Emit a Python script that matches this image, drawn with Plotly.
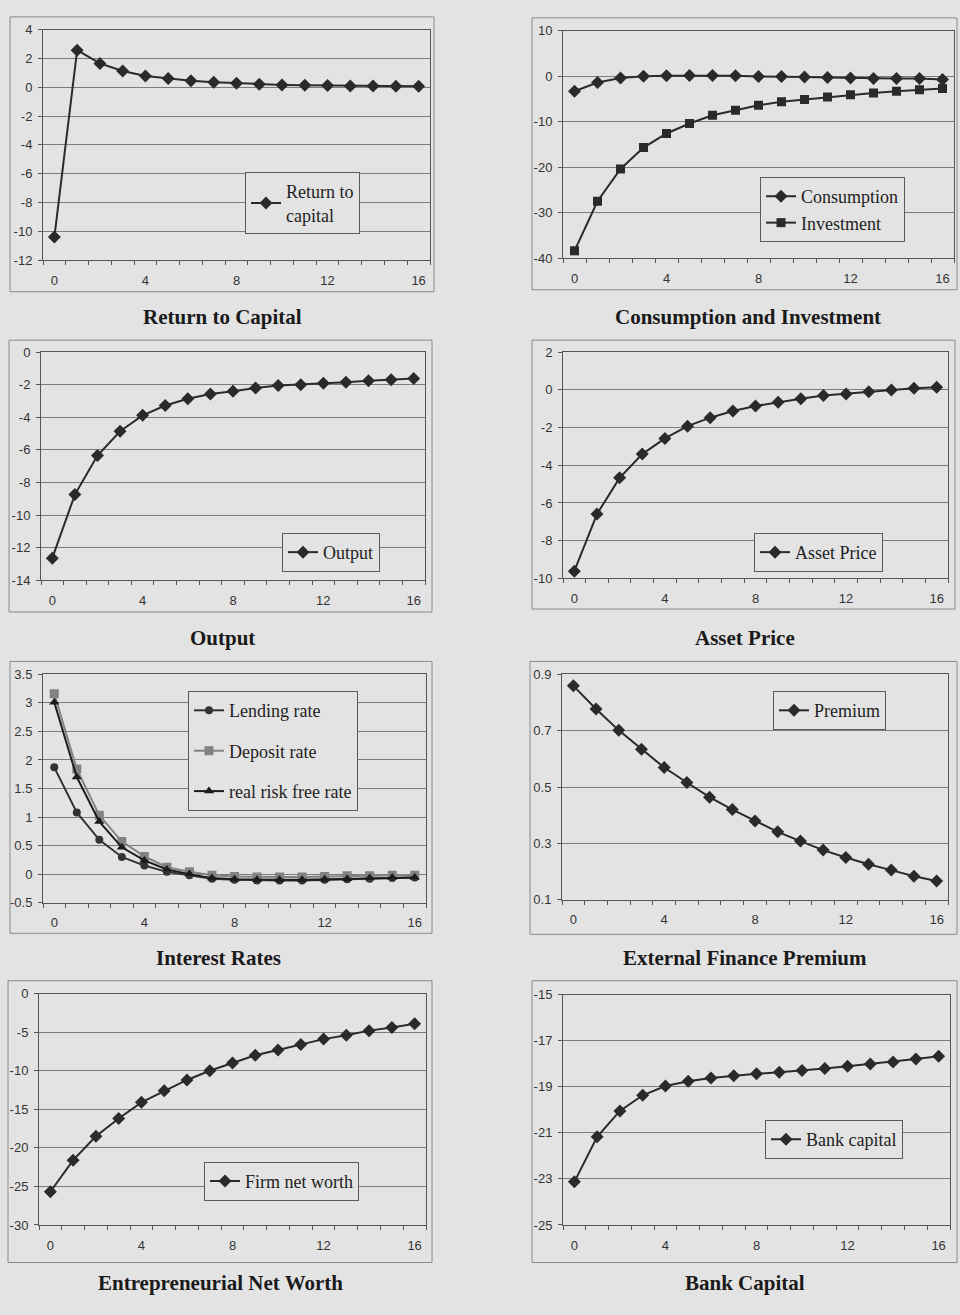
import plotly.graph_objects as go

# ---------------------------------------------------------------
# Impulse responses, quarters 0..16
# ---------------------------------------------------------------
periods = list(range(17))

return_to_capital = [-10.4, 2.58, 1.66, 1.13, 0.79, 0.61, 0.45, 0.36, 0.29,
                     0.22, 0.17, 0.14, 0.12, 0.10, 0.09, 0.08, 0.07]

consumption = [-3.3, -1.4, -0.4, 0.0, 0.1, 0.15, 0.15, 0.1, -0.05,
               -0.05, -0.2, -0.3, -0.4, -0.5, -0.5, -0.5, -0.7]
investment = [-38.4, -27.5, -20.4, -15.7, -12.6, -10.4, -8.6, -7.5, -6.4,
              -5.6, -5.1, -4.6, -4.1, -3.7, -3.3, -3.0, -2.7]

output = [-12.64, -8.74, -6.35, -4.86, -3.88, -3.28, -2.87, -2.57, -2.41,
          -2.20, -2.06, -2.00, -1.92, -1.86, -1.76, -1.70, -1.62]

asset_price = [-9.62, -6.59, -4.67, -3.41, -2.58, -1.93, -1.48, -1.13, -0.86,
               -0.66, -0.48, -0.31, -0.22, -0.10, -0.01, 0.08, 0.13]

lending_rate = [1.87, 1.08, 0.60, 0.30, 0.15, 0.04, -0.02, -0.08, -0.10,
                -0.11, -0.11, -0.11, -0.10, -0.09, -0.08, -0.07, -0.06]
deposit_rate = [3.16, 1.84, 1.03, 0.57, 0.31, 0.12, 0.04, -0.02, -0.04,
                -0.05, -0.05, -0.05, -0.04, -0.03, -0.03, -0.02, -0.02]
risk_free_rate = [3.01, 1.70, 0.92, 0.47, 0.24, 0.08, 0.00, -0.07, -0.09,
                  -0.10, -0.10, -0.10, -0.09, -0.08, -0.07, -0.06, -0.06]

premium = [0.859, 0.777, 0.701, 0.634, 0.569, 0.516, 0.464, 0.420, 0.379,
           0.341, 0.308, 0.276, 0.250, 0.226, 0.205, 0.183, 0.166]

firm_net_worth = [-25.7, -21.6, -18.5, -16.2, -14.1, -12.6, -11.2, -10.0, -9.0,
                  -8.0, -7.3, -6.6, -5.9, -5.4, -4.8, -4.4, -3.9]

bank_capital = [-23.13, -21.17, -20.05, -19.37, -18.97, -18.76, -18.62, -18.52,
                -18.44, -18.37, -18.30, -18.21, -18.11, -18.01, -17.93, -17.80,
                -17.68]

x_tick_labels = [0, 4, 8, 12, 16]

panel_titles = ["Return to Capital", "Consumption and Investment", "Output",
                "Asset Price", "Interest Rates", "External Finance Premium",
                "Entrepreneurial Net Worth", "Bank Capital"]

# ---------------------------------------------------------------
# Page geometry (pixels)
# ---------------------------------------------------------------
W, H = 960, 1315
BG = "#e3e3e3"
INK = "#2a2a2a"
GRID = "#7c7c7c"
TICKFONT = dict(family="Liberation Sans, Arial", size=13, color="#333333")
LEGFONT = dict(family="Liberation Serif, Times New Roman", size=18, color="#1e1e1e")
TITLEFONT = dict(family="Liberation Serif, Times New Roman", size=21, color="#1a1a1a")


def px_x(v):
    return v / W


def px_y(v):
    return 1 - v / H


# plot rectangle (left, top, right, bottom), outer frame, y-axis spec,
# legend top-left corner, title centre
panels = [
    dict(plot=(43, 23, 430, 256), frame=(10, 10, 434, 288), yr=(-12, 4), dt=2,
         leg=(245, 167), title=(222, 314)),
    dict(plot=(563, 24, 954, 254), frame=(532, 11, 957, 286), yr=(-40, 10), dt=10,
         leg=(760, 172), title=(748, 314)),
    dict(plot=(41, 349, 425, 580), frame=(9, 337, 432, 612), yr=(-14, 0), dt=2,
         leg=(282, 532), title=(222, 638)),
    dict(plot=(563, 349, 948, 578), frame=(532, 337, 955, 609), yr=(-10, 2), dt=2,
         leg=(754, 532), title=(745, 638)),
    dict(plot=(43, 675, 426, 906), frame=(10, 662, 432, 937), yr=(-0.5, 3.5), dt=0.5,
         leg=(188, 692), title=(218, 962)),
    dict(plot=(562, 675, 948, 903), frame=(530, 662, 957, 938), yr=(0.1, 0.9), dt=0.2,
         leg=(773, 692), title=(745, 962)),
    dict(plot=(39, 998, 426, 1232), frame=(8, 985, 432, 1270), yr=(-30, 0), dt=5,
         leg=(204, 1168), title=(220, 1291)),
    dict(plot=(563, 999, 950, 1232), frame=(532, 985, 957, 1270), yr=(-25, -15), dt=2,
         leg=(765, 1126), title=(745, 1291)),
]

# series per panel: (values, name, marker symbol, colour, marker size)
series = [
    [(return_to_capital, "Return to<br>capital", "diamond", INK, 10)],
    [(consumption, "Consumption", "diamond", INK, 10),
     (investment, "Investment", "square", INK, 9)],
    [(output, "Output", "diamond", INK, 10)],
    [(asset_price, "Asset Price", "diamond", INK, 10)],
    [(lending_rate, "Lending rate", "circle", "#333333", 8),
     (deposit_rate, "Deposit rate", "square", "#828282", 9),
     (risk_free_rate, "real risk free rate", "triangle-up", "#1c1c1c", 9)],
    [(premium, "Premium", "diamond", INK, 10)],
    [(firm_net_worth, "Firm net worth", "diamond", INK, 10)],
    [(bank_capital, "Bank capital", "diamond", INK, 10)],
]

fig = go.Figure()
layout = dict(
    width=W, height=H, margin=dict(l=0, r=0, t=0, b=0),
    paper_bgcolor=BG, plot_bgcolor=BG, showlegend=True,
    shapes=[], annotations=[],
)

for i, (p, group) in enumerate(zip(panels, series), start=1):
    sfx = "" if i == 1 else str(i)
    leg_id = "legend" if i == 1 else f"legend{i}"
    l, t, r, b = p["plot"]
    lo, hi = p["yr"]
    dt = p["dt"]
    n = int(round((hi - lo) / dt))
    yvals = [round(lo + k * dt, 4) for k in range(n + 1)]

    layout[f"xaxis{sfx}"] = dict(
        domain=[px_x(l), px_x(r)], anchor=f"y{sfx}",
        range=[-0.5, 16.5], tickvals=x_tick_labels,
        ticktext=[str(v) for v in x_tick_labels],
        ticks="", tickfont=TICKFONT, ticklabelstandoff=8,
        showgrid=False, zeroline=False,
        showline=True, linecolor="#555555", linewidth=1, mirror=True,
        minor=dict(tick0=-0.5, dtick=1, ticks="outside", ticklen=4,
                   tickcolor="#555555", showgrid=False),
        fixedrange=True,
    )
    layout[f"yaxis{sfx}"] = dict(
        domain=[px_y(b), px_y(t)], anchor=f"x{sfx}",
        range=[lo, hi], tickvals=yvals,
        ticktext=[f"{v:g}" for v in yvals],
        ticks="outside", ticklen=4, tickcolor="#555555",
        tickfont=TICKFONT, ticklabelstandoff=3,
        showgrid=True, gridcolor=GRID, gridwidth=1,
        zeroline=False, showline=True, linecolor="#555555", linewidth=1,
        mirror=True, fixedrange=True,
    )

    for j, (vals, name, sym, col, msz) in enumerate(group):
        fig.add_trace(go.Scatter(
            x=periods, y=vals, name=name, mode="lines+markers",
            xaxis=f"x{sfx}", yaxis=f"y{sfx}",
            line=dict(color=col, width=2),
            marker=dict(symbol=sym, size=msz, color=col),
            legend=leg_id, legendgroup=f"g{i}_{j}",
        ))

    lx, ly = p["leg"]
    layout[leg_id] = dict(
        x=px_x(lx), y=px_y(ly), xanchor="left", yanchor="top",
        bgcolor=BG, bordercolor="#5a5a5a", borderwidth=1,
        font=LEGFONT, itemwidth=30,
        tracegroupgap=14 if i == 5 else 0,
    )

    fl, ft, fr, fb = p["frame"]
    layout["shapes"].append(dict(
        type="rect", xref="paper", yref="paper",
        x0=px_x(fl), x1=px_x(fr), y0=px_y(fb), y1=px_y(ft),
        line=dict(color="#8a8a8a", width=1), layer="below",
    ))

    tx, ty = p["title"]
    layout["annotations"].append(dict(
        text=f"<b>{panel_titles[i - 1]}</b>", xref="paper", yref="paper",
        x=px_x(tx), y=px_y(ty), xanchor="center", yanchor="middle",
        showarrow=False, font=TITLEFONT,
    ))

fig.update_layout(**layout)
fig.write_html("out.html")
